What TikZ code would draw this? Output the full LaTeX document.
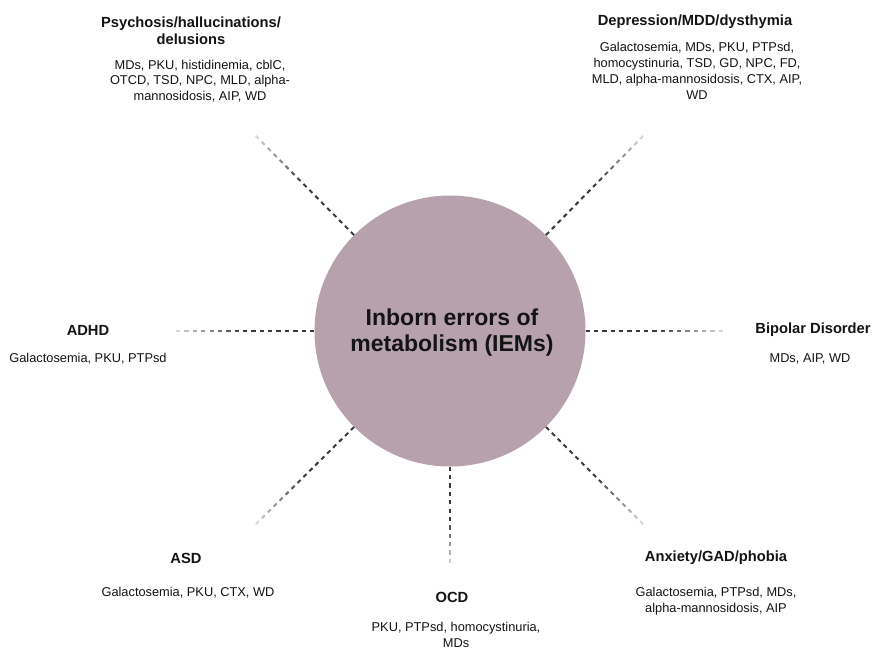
\documentclass[tikz,border=0pt]{standalone}
\usepackage{fontspec}
\setmainfont{Liberation Sans}
\usetikzlibrary{calc}
\definecolor{iemfill}{HTML}{B6A1AD}
\definecolor{txt}{HTML}{141414}
\definecolor{dashgray}{HTML}{3A3A3A}
\tikzset{
  ttl/.style={font=\fontsize{14.7}{17}\selectfont\bfseries, text=txt, align=center, inner sep=0pt},
  bdy/.style={font=\fontsize{12.8}{15.8}\selectfont, text=txt, align=center, inner sep=0pt},
  dashline/.style={line width=2pt},
}
\begin{document}
\begin{tikzpicture}[x=1pt,y=-1pt]
\useasboundingbox[fill=white] (0,0) rectangle (872,651);

\node[circle, fill=iemfill, minimum size=271pt, inner sep=0pt] (iem) at (450,331) {};
\node[font=\fontsize{23}{26}\selectfont\bfseries, text=txt, align=center, inner sep=0pt]
      (iemT) at (452,333) {Inborn errors of\\metabolism (IEMs)};

% outer ends of the dashed rays
\coordinate (onw) at (253,133);
\coordinate (one) at (646,133);
\coordinate (ow)  at (172,331);
\coordinate (oe)  at (727,331);
\coordinate (osw) at (253,527);
\coordinate (ose) at (646,527);
\coordinate (os)  at (450,567);

\foreach \A/\B/\n in {iem.135/onw/17, iem.45/one/17, iem.180/ow/17, iem.0/oe/17,
                      iem.225/osw/17, iem.315/ose/17, iem.270/os/12} {
  \foreach \i in {1,...,\n} {
    \pgfmathsetmacro\ta{(\i-1)/\n}
    \pgfmathsetmacro\tb{(\i-0.48)/\n}
    \pgfmathtruncatemacro\op{\ta<0.5 ? 100 : 100-(\ta-0.5)/0.5*90}
    \draw[dashline, draw=dashgray!\op!white] ($(\A)!\ta!(\B)$) -- ($(\A)!\tb!(\B)$);
  }
}

% Psychosis
\node[ttl] (psyT) at (191,31) {Psychosis/hallucinations/\\delusions};
\node[bdy] (psyB) at (200,81) {MDs, PKU, histidinemia, cblC,\\OTCD, TSD, NPC, MLD, alpha-\\mannosidosis, AIP, WD};

% Depression
\node[ttl] (depT) at (695,22) {Depression/MDD/dysthymia};
\node[bdy] (depB) at (697,71) {Galactosemia, MDs, PKU, PTPsd,\\homocystinuria, TSD, GD, NPC, FD,\\MLD, alpha-mannosidosis, CTX, AIP,\\WD};

% ADHD
\node[ttl] (adhdT) at (88,330) {ADHD};
\node[bdy] (adhdB) at (88,359) {Galactosemia, PKU, PTPsd};

% Bipolar
\node[ttl] (bipT) at (813,330) {Bipolar Disorder};
\node[bdy] (bipB) at (810,359) {MDs, AIP, WD};

% ASD
\node[ttl] (asdT) at (186,558) {ASD};
\node[bdy] (asdB) at (188,593) {Galactosemia, PKU, CTX, WD};

% OCD
\node[ttl] (ocdT) at (452,597) {OCD};
\node[bdy] (ocdB) at (456,635) {PKU, PTPsd, homocystinuria,\\MDs};

% Anxiety
\node[ttl] (anxT) at (716,558) {Anxiety/GAD/phobia};
\node[bdy] (anxB) at (716,601) {Galactosemia, PTPsd, MDs,\\alpha-mannosidosis, AIP};
\end{tikzpicture}
\end{document}
